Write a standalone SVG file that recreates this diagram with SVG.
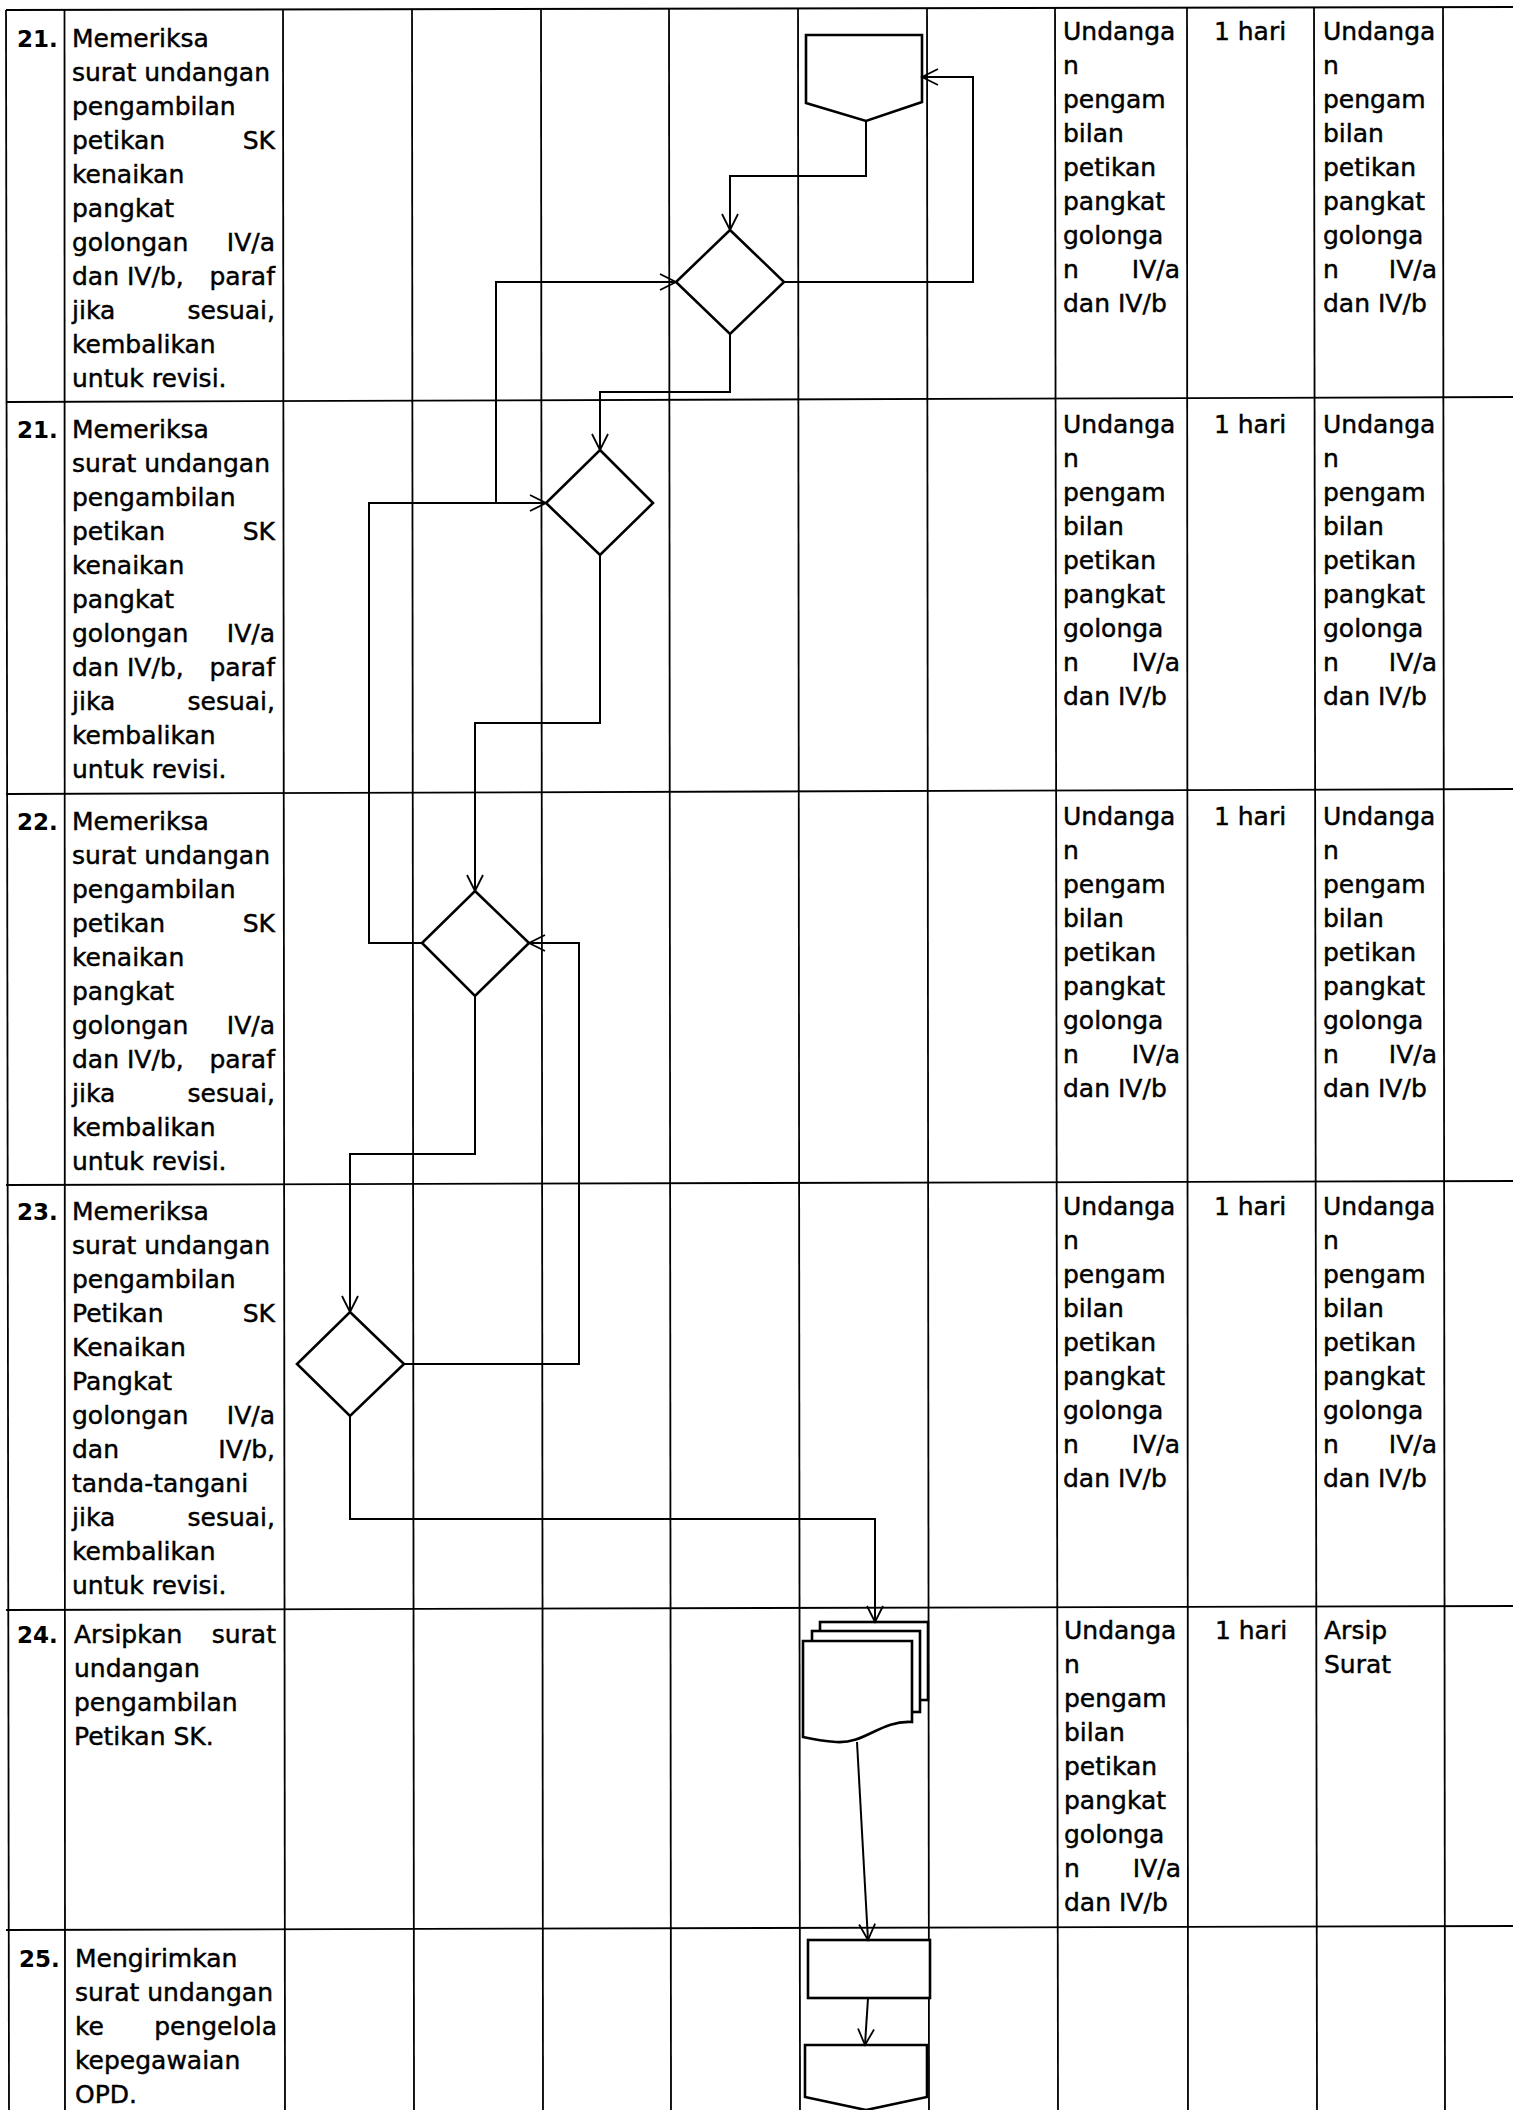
<svg xmlns="http://www.w3.org/2000/svg" width="1513" height="2110" viewBox="0 0 1513 2110">
<style>
.t{font-family:"DejaVu Sans",Verdana,sans-serif;font-size:25px;fill:#000;stroke:#000;stroke-width:0.45}
.n{font-family:"DejaVu Sans",Verdana,sans-serif;font-size:23px;font-weight:bold;fill:#000}
.e{text-anchor:end}
.m{text-anchor:middle}
.g{stroke:#000;stroke-width:1.8;fill:none}
.c{fill:none;stroke:#000;stroke-width:2}
.s{fill:#fff;stroke:#000;stroke-width:2.6;stroke-linejoin:miter}
</style>
<defs>
<marker id="arr" viewBox="-2 -2 20 20" refX="16" refY="8" markerWidth="20" markerHeight="20" markerUnits="userSpaceOnUse" orient="auto">
<path d="M0,0 L16,8 L0,16" fill="none" stroke="#000" stroke-width="1.8"/>
</marker>
</defs>
<rect width="1513" height="2110" fill="#fff"/>
<g id="grid">
<line class="g" x1="6" y1="10" x2="1513" y2="7"/>
<line class="g" x1="6" y1="402" x2="1513" y2="397"/>
<line class="g" x1="6" y1="794" x2="1513" y2="789"/>
<line class="g" x1="6" y1="1185" x2="1513" y2="1181"/>
<line class="g" x1="6" y1="1610" x2="1513" y2="1606"/>
<line class="g" x1="6" y1="1930" x2="1513" y2="1926"/>
<line class="g" x1="6" y1="10" x2="9" y2="2110"/>
<line class="g" x1="64.5" y1="10" x2="65" y2="2110"/>
<line class="g" x1="283" y1="10" x2="285" y2="2110"/>
<line class="g" x1="412" y1="10" x2="414" y2="2110"/>
<line class="g" x1="541" y1="10" x2="543" y2="2110"/>
<line class="g" x1="669" y1="9" x2="671" y2="2110"/>
<line class="g" x1="798" y1="9" x2="800" y2="2110"/>
<line class="g" x1="927" y1="8" x2="929" y2="2110"/>
<line class="g" x1="1055" y1="8" x2="1058" y2="2110"/>
<line class="g" x1="1187" y1="8" x2="1188" y2="2110"/>
<line class="g" x1="1314" y1="7" x2="1317" y2="2110"/>
<line class="g" x1="1443" y1="7" x2="1445" y2="2110"/>
</g>
<g id="row21a">
<text class="n" x="17" y="47">21.</text>
<text class="t" x="72" y="47">Memeriksa</text>
<text class="t" x="72" y="81">surat undangan</text>
<text class="t" x="72" y="115">pengambilan</text>
<text class="t" x="72" y="149">petikan</text><text class="t e" x="275" y="149">SK</text>
<text class="t" x="72" y="183">kenaikan</text>
<text class="t" x="72" y="217">pangkat</text>
<text class="t" x="72" y="251">golongan</text><text class="t e" x="275" y="251">IV/a</text>
<text class="t" x="72" y="285">dan IV/b,</text><text class="t e" x="275" y="285">paraf</text>
<text class="t" x="72" y="319">jika</text><text class="t e" x="275" y="319">sesuai,</text>
<text class="t" x="72" y="353">kembalikan</text>
<text class="t" x="72" y="387">untuk revisi.</text>
<text class="t" x="1063" y="40">Undanga</text>
<text class="t" x="1063" y="74">n</text>
<text class="t" x="1063" y="108">pengam</text>
<text class="t" x="1063" y="142">bilan</text>
<text class="t" x="1063" y="176">petikan</text>
<text class="t" x="1063" y="210">pangkat</text>
<text class="t" x="1063" y="244">golonga</text>
<text class="t" x="1063" y="278">n</text><text class="t e" x="1180" y="278">IV/a</text>
<text class="t" x="1063" y="312">dan IV/b</text>
<text class="t m" x="1250" y="40">1 hari</text>
<text class="t" x="1323" y="40">Undanga</text>
<text class="t" x="1323" y="74">n</text>
<text class="t" x="1323" y="108">pengam</text>
<text class="t" x="1323" y="142">bilan</text>
<text class="t" x="1323" y="176">petikan</text>
<text class="t" x="1323" y="210">pangkat</text>
<text class="t" x="1323" y="244">golonga</text>
<text class="t" x="1323" y="278">n</text><text class="t e" x="1437" y="278">IV/a</text>
<text class="t" x="1323" y="312">dan IV/b</text>
</g>
<g id="row21b">
<text class="n" x="17" y="438">21.</text>
<text class="t" x="72" y="438">Memeriksa</text>
<text class="t" x="72" y="472">surat undangan</text>
<text class="t" x="72" y="506">pengambilan</text>
<text class="t" x="72" y="540">petikan</text><text class="t e" x="275" y="540">SK</text>
<text class="t" x="72" y="574">kenaikan</text>
<text class="t" x="72" y="608">pangkat</text>
<text class="t" x="72" y="642">golongan</text><text class="t e" x="275" y="642">IV/a</text>
<text class="t" x="72" y="676">dan IV/b,</text><text class="t e" x="275" y="676">paraf</text>
<text class="t" x="72" y="710">jika</text><text class="t e" x="275" y="710">sesuai,</text>
<text class="t" x="72" y="744">kembalikan</text>
<text class="t" x="72" y="778">untuk revisi.</text>
<text class="t" x="1063" y="433">Undanga</text>
<text class="t" x="1063" y="467">n</text>
<text class="t" x="1063" y="501">pengam</text>
<text class="t" x="1063" y="535">bilan</text>
<text class="t" x="1063" y="569">petikan</text>
<text class="t" x="1063" y="603">pangkat</text>
<text class="t" x="1063" y="637">golonga</text>
<text class="t" x="1063" y="671">n</text><text class="t e" x="1180" y="671">IV/a</text>
<text class="t" x="1063" y="705">dan IV/b</text>
<text class="t m" x="1250" y="433">1 hari</text>
<text class="t" x="1323" y="433">Undanga</text>
<text class="t" x="1323" y="467">n</text>
<text class="t" x="1323" y="501">pengam</text>
<text class="t" x="1323" y="535">bilan</text>
<text class="t" x="1323" y="569">petikan</text>
<text class="t" x="1323" y="603">pangkat</text>
<text class="t" x="1323" y="637">golonga</text>
<text class="t" x="1323" y="671">n</text><text class="t e" x="1437" y="671">IV/a</text>
<text class="t" x="1323" y="705">dan IV/b</text>
</g>
<g id="row22">
<text class="n" x="17" y="830">22.</text>
<text class="t" x="72" y="830">Memeriksa</text>
<text class="t" x="72" y="864">surat undangan</text>
<text class="t" x="72" y="898">pengambilan</text>
<text class="t" x="72" y="932">petikan</text><text class="t e" x="275" y="932">SK</text>
<text class="t" x="72" y="966">kenaikan</text>
<text class="t" x="72" y="1000">pangkat</text>
<text class="t" x="72" y="1034">golongan</text><text class="t e" x="275" y="1034">IV/a</text>
<text class="t" x="72" y="1068">dan IV/b,</text><text class="t e" x="275" y="1068">paraf</text>
<text class="t" x="72" y="1102">jika</text><text class="t e" x="275" y="1102">sesuai,</text>
<text class="t" x="72" y="1136">kembalikan</text>
<text class="t" x="72" y="1170">untuk revisi.</text>
<text class="t" x="1063" y="825">Undanga</text>
<text class="t" x="1063" y="859">n</text>
<text class="t" x="1063" y="893">pengam</text>
<text class="t" x="1063" y="927">bilan</text>
<text class="t" x="1063" y="961">petikan</text>
<text class="t" x="1063" y="995">pangkat</text>
<text class="t" x="1063" y="1029">golonga</text>
<text class="t" x="1063" y="1063">n</text><text class="t e" x="1180" y="1063">IV/a</text>
<text class="t" x="1063" y="1097">dan IV/b</text>
<text class="t m" x="1250" y="825">1 hari</text>
<text class="t" x="1323" y="825">Undanga</text>
<text class="t" x="1323" y="859">n</text>
<text class="t" x="1323" y="893">pengam</text>
<text class="t" x="1323" y="927">bilan</text>
<text class="t" x="1323" y="961">petikan</text>
<text class="t" x="1323" y="995">pangkat</text>
<text class="t" x="1323" y="1029">golonga</text>
<text class="t" x="1323" y="1063">n</text><text class="t e" x="1437" y="1063">IV/a</text>
<text class="t" x="1323" y="1097">dan IV/b</text>
</g>
<g id="row23">
<text class="n" x="17" y="1220">23.</text>
<text class="t" x="72" y="1220">Memeriksa</text>
<text class="t" x="72" y="1254">surat undangan</text>
<text class="t" x="72" y="1288">pengambilan</text>
<text class="t" x="72" y="1322">Petikan</text><text class="t e" x="275" y="1322">SK</text>
<text class="t" x="72" y="1356">Kenaikan</text>
<text class="t" x="72" y="1390">Pangkat</text>
<text class="t" x="72" y="1424">golongan</text><text class="t e" x="275" y="1424">IV/a</text>
<text class="t" x="72" y="1458">dan</text><text class="t e" x="275" y="1458">IV/b,</text>
<text class="t" x="72" y="1492">tanda-tangani</text>
<text class="t" x="72" y="1526">jika</text><text class="t e" x="275" y="1526">sesuai,</text>
<text class="t" x="72" y="1560">kembalikan</text>
<text class="t" x="72" y="1594">untuk revisi.</text>
<text class="t" x="1063" y="1215">Undanga</text>
<text class="t" x="1063" y="1249">n</text>
<text class="t" x="1063" y="1283">pengam</text>
<text class="t" x="1063" y="1317">bilan</text>
<text class="t" x="1063" y="1351">petikan</text>
<text class="t" x="1063" y="1385">pangkat</text>
<text class="t" x="1063" y="1419">golonga</text>
<text class="t" x="1063" y="1453">n</text><text class="t e" x="1180" y="1453">IV/a</text>
<text class="t" x="1063" y="1487">dan IV/b</text>
<text class="t m" x="1250" y="1215">1 hari</text>
<text class="t" x="1323" y="1215">Undanga</text>
<text class="t" x="1323" y="1249">n</text>
<text class="t" x="1323" y="1283">pengam</text>
<text class="t" x="1323" y="1317">bilan</text>
<text class="t" x="1323" y="1351">petikan</text>
<text class="t" x="1323" y="1385">pangkat</text>
<text class="t" x="1323" y="1419">golonga</text>
<text class="t" x="1323" y="1453">n</text><text class="t e" x="1437" y="1453">IV/a</text>
<text class="t" x="1323" y="1487">dan IV/b</text>
</g>
<g id="row24">
<text class="n" x="17" y="1643">24.</text>
<text class="t" x="74" y="1643">Arsipkan</text><text class="t e" x="276" y="1643">surat</text>
<text class="t" x="74" y="1677">undangan</text>
<text class="t" x="74" y="1711">pengambilan</text>
<text class="t" x="74" y="1745">Petikan SK.</text>
<text class="t" x="1064" y="1639">Undanga</text>
<text class="t" x="1064" y="1673">n</text>
<text class="t" x="1064" y="1707">pengam</text>
<text class="t" x="1064" y="1741">bilan</text>
<text class="t" x="1064" y="1775">petikan</text>
<text class="t" x="1064" y="1809">pangkat</text>
<text class="t" x="1064" y="1843">golonga</text>
<text class="t" x="1064" y="1877">n</text><text class="t e" x="1181" y="1877">IV/a</text>
<text class="t" x="1064" y="1911">dan IV/b</text>
<text class="t m" x="1251" y="1639">1 hari</text>
<text class="t" x="1324" y="1639">Arsip</text>
<text class="t" x="1324" y="1673">Surat</text>
</g>
<g id="row25">
<text class="n" x="19" y="1967">25.</text>
<text class="t" x="75" y="1967">Mengirimkan</text>
<text class="t" x="75" y="2001">surat undangan</text>
<text class="t" x="75" y="2035">ke</text><text class="t e" x="277" y="2035">pengelola</text>
<text class="t" x="75" y="2069">kepegawaian</text>
<text class="t" x="75" y="2103">OPD.</text>
</g>
<g id="offpage1"><path class="s" d="M806,35 L922,35 L922,102 L866,121 L806,103 Z"/></g>
<g id="decision1"><polygon class="s" points="730,230 784,282 730,334 676,282"/></g>
<g id="decision2"><polygon class="s" points="600,450 653,503 600,555 546,503"/></g>
<g id="decision3"><polygon class="s" points="475,891 529,943 475,996 422,943"/></g>
<g id="decision4"><polygon class="s" points="350,1312 404,1364 350,1416 297,1364"/></g>
<g id="documents">
<rect class="s" x="820" y="1622" width="108" height="78"/>
<rect class="s" x="812" y="1631" width="108" height="81"/>
<path class="s" d="M803,1641 L912,1641 L912,1722 C880,1720 866,1744 836,1742 C822,1741 812,1739 803,1737 Z"/>
</g>
<g id="process"><rect class="s" x="808" y="1940" width="122" height="58"/></g>
<g id="offpage2"><path class="s" d="M805,2045 L927,2045 L927,2097 L866,2110 L805,2097 Z"/></g>
<g id="connectors">
<path class="c" d="M866,121 L866,176 L730,176 L730,230" marker-end="url(#arr)"/>
<path class="c" d="M784,282 L973,282 L973,77 L922,77" marker-end="url(#arr)"/>
<path class="c" d="M730,334 L730,392 L600,392 L600,450" marker-end="url(#arr)"/>
<path class="c" d="M496,503 L496,282 L676,282" marker-end="url(#arr)"/>
<path class="c" d="M422,943 L369,943 L369,503 L546,503" marker-end="url(#arr)"/>
<path class="c" d="M600,555 L600,723 L475,723 L475,891" marker-end="url(#arr)"/>
<path class="c" d="M404,1364 L579,1364 L579,943 L529,943" marker-end="url(#arr)"/>
<path class="c" d="M475,996 L475,1154 L350,1154 L350,1312" marker-end="url(#arr)"/>
<path class="c" d="M350,1416 L350,1519 L875,1519 L875,1622" marker-end="url(#arr)"/>
<path class="c" d="M857,1742 L868,1940" marker-end="url(#arr)"/>
<path class="c" d="M868,1998 L865,2045" marker-end="url(#arr)"/>
</g>
</svg>
